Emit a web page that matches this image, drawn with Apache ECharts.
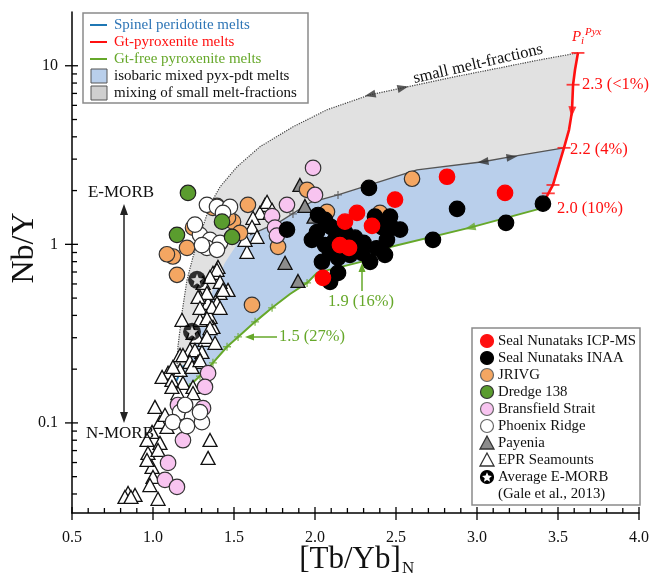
<!DOCTYPE html>
<html><head><meta charset="utf-8">
<script src="https://cdn.jsdelivr.net/npm/echarts/dist/echarts.min.js"></script>
<style>html,body{margin:0;padding:0;background:#fff}#c{width:652px;height:580px}</style>
</head><body><div id="c"></div><script>
// ---------- axes ----------
const X_MIN = 0.5, X_MAX = 4.0;
const Y_MIN = 0.0313, Y_MAX = 20;
const xTickValues = [0.5, 1.0, 1.5, 2.0, 2.5, 3.0, 3.5, 4.0];
const xTickLabels = ['0.5', '1.0', '1.5', '2.0', '2.5', '3.0', '3.5', '4.0'];
const xMinorTicks = [0.6,0.7,0.8,0.9,1.1,1.2,1.3,1.4,1.6,1.7,1.8,1.9,2.1,2.2,2.3,2.4,2.6,2.7,2.8,2.9,3.1,3.2,3.3,3.4,3.6,3.7,3.8,3.9];
const yTickValues = [0.1, 1, 10];
const yTickLabels = ['0.1', '1', '10'];
const yMinorTicks = [0.04,0.05,0.06,0.07,0.08,0.09,0.2,0.3,0.4,0.5,0.6,0.7,0.8,0.9,2,3,4,5,6,7,8,9];

// ---------- model curves [Tb/Yb]N, Nb/Y ----------
const gtPyxMelts = [[3.623,11.8],[3.605,9.5],[3.593,7.83],[3.586,5.52],[3.568,4.38],[3.537,3.47],[3.50,2.68],[3.469,2.15],[3.426,1.82],[3.405,1.62]];
const gtFreePyxMelts = [[3.407,1.60],[2.957,1.24],[2.444,0.956],[2.29,0.80],[2.012,0.692],[1.951,0.608],[1.846,0.527],[1.735,0.441],[1.630,0.368],[1.525,0.303],[1.457,0.267],[1.370,0.217],[1.290,0.183],[1.216,0.159]];
const spinelMelts = [[1.13,0.16],[1.16,0.185],[1.19,0.21]];
const smallMeltFrac = [[3.623,11.8],[3.389,10.8],[3.142,9.74],[2.833,8.57],[2.543,7.53],[2.340,6.88],[2.074,5.67],[1.864,4.55],[1.660,3.52],[1.519,2.72],[1.414,2.10],[1.352,1.665],[1.302,1.205],[1.247,0.851],[1.210,0.633],[1.179,0.413],[1.154,0.267],[1.148,0.206]];
const mixUpper = [[3.537,3.47],[3.204,3.09],[3.037,2.90],[2.630,2.61],[2.142,1.89],[1.969,1.71],[1.784,1.34],[1.599,1.13]];
const mixLeftEdge = [[1.537,1.06],[1.444,0.788],[1.370,0.556],[1.309,0.378],[1.241,0.256],[1.185,0.186]];
const greenTickMarks = [[1.228,0.159],[1.290,0.183],[1.370,0.217],[1.457,0.267],[1.525,0.303],[1.630,0.368],[1.735,0.441],[1.951,0.608]];
const redTickMarks = [[3.623,11.8],[3.593,7.83],[3.537,3.47],[3.469,2.15],[3.44,1.93]];
const mixTickMarks = [[2.142,1.89],[1.864,1.48]];
const arrowPoints = [[2.340,6.88],[2.543,7.53],[3.037,2.90],[3.216,3.08],[2.957,1.24],[3.586,5.52]];
const arrowAngles = [103, -77, 98, -82, 104, 175];
const arrowColors = ['#333','#333','#333','#333','#66a82a','#ff1010'];

// ---------- samples ----------
const sealICPMS = [[2.815,2.39],[3.173,1.94],[2.494,1.78],[2.259,1.50],[2.185,1.34],[2.352,1.27],[2.154,0.99],[2.21,0.956],[2.049,0.649]];
const sealINAA = [[1.827,1.21],[2.019,1.46],[2.062,1.37],[2.012,1.17],[2.062,0.99],[2.093,0.908],[2.142,0.84],[2.043,0.798],[2.093,0.617],[2.142,0.692],[2.185,1.17],[2.247,1.09],[2.29,0.896],[2.34,0.798],[2.37,1.43],[2.414,1.25],[2.432,0.873],[2.463,1.43],[2.475,1.24],[2.525,1.21],[2.444,1.06],[2.333,2.07],[2.728,1.06],[2.877,1.58],[3.179,1.32],[3.407,1.69],[2.216,0.873],[1.981,1.06],[2.10,1.25],[2.30,1.02],[2.38,0.95],[2.12,1.05]];
const jrivg = [[2.599,2.33],[2.401,1.50],[2.074,1.52],[1.951,2.02],[1.586,1.665],[1.395,1.64],[1.457,1.50],[1.494,1.34],[1.537,1.16],[1.772,0.968],[1.247,1.24],[1.210,0.956],[1.123,0.855],[1.086,0.88],[1.148,0.675],[1.611,0.458],[1.370,1.60],[1.463,1.41]];
const dredge138 = [[1.216,1.94],[1.426,1.34],[1.488,1.10],[1.148,1.13]];
const bransfield = [[1.988,2.68],[2.0,1.89],[1.827,1.665],[1.735,1.44],[1.753,1.24],[1.765,1.12],[1.340,0.19],[1.321,0.159],[1.309,0.121],[1.154,0.126],[1.21,0.115],[1.185,0.080],[1.093,0.0597],[1.074,0.048],[1.148,0.0438]];
const phoenix = [[1.333,1.665],[1.395,1.62],[1.475,1.62],[1.432,1.50],[1.290,1.13],[1.352,1.06],[1.414,1.02],[1.333,0.956],[1.395,0.932],[1.302,0.99],[1.259,1.29],[1.167,0.115],[1.241,0.108],[1.302,0.101],[1.123,0.101],[1.21,0.096],[1.290,0.115],[1.198,0.126]];
const payenia = [[1.907,2.15],[1.938,1.64],[1.994,1.43],[1.815,0.788],[1.895,0.624]];
const eprSeamounts = [[1.691,1.665],[1.660,1.501],[1.617,1.408],[1.722,1.501],[1.611,1.253],[1.704,1.73],[1.735,1.561],[1.642,1.102],[1.580,0.908],[1.568,1.060],
[1.401,0.748],[1.370,0.692],[1.309,0.608],[1.463,0.556],[1.414,0.535],[1.290,0.508],[1.340,0.470],[1.395,0.470],[1.179,0.378],[1.290,0.378],
[1.352,0.393],[1.370,0.345],[1.247,0.319],[1.321,0.292],[1.167,0.240],[1.228,0.256],[1.302,0.250],[1.395,0.720],[1.352,0.657],[1.414,0.616],
[1.432,0.556],[1.333,0.535],[1.278,0.508],[1.290,0.441],[1.364,0.446],[1.414,0.441],[1.333,0.386],[1.352,0.340],[1.272,0.303],[1.333,0.303],
[1.383,0.281],[1.259,0.256],[1.185,0.240],[1.228,0.220],[1.278,0.220],[1.167,0.198],[1.093,0.191],[1.056,0.181],[1.117,0.174],[1.185,0.1675],
[1.247,0.159],[1.154,0.147],[1.123,0.206],[1.241,0.206],[1.290,0.225],[1.117,0.159],[1.247,0.147],[1.012,0.123],[1.043,0.1013],[1.086,0.0950],
[0.994,0.0891],[0.963,0.0803],[1.043,0.0773],[0.969,0.0679],[1.031,0.0706],[0.994,0.0567],[0.963,0.0620],[1.0,0.0498],[1.352,0.0803],[1.340,0.0637],
[0.846,0.0405],[0.889,0.0395],[0.827,0.0385],[0.864,0.0385],[0.981,0.0449],[1.031,0.0376],[1.074,0.111]];
const avgEMORB = [[1.272,0.633],[1.241,0.324]];

// ---------- text ----------
const topLegendNames = ['Spinel peridotite melts','Gt-pyroxenite melts','Gt-free pyroxenite melts','isobaric mixed pyx-pdt melts','mixing of small melt-fractions'];
const sampleNames = ['Seal Nunataks ICP-MS','Seal Nunataks INAA','JRIVG','Dredge 138','Bransfield Strait','Phoenix Ridge','Payenia','EPR Seamounts','Average E-MORB'];

const FONT = '"Liberation Serif","Times New Roman",serif';
const C = {red:'#ff1010', blueLine:'#1f77b4', green:'#66a82a', gray:'#e1e1e1', blueFill:'#b9cfeb',
  orange:'#f4a662', dgreen:'#5a9c2e', pink:'#f8c4f0', payenia:'#8c8c8c'};

const chart = echarts.init(document.getElementById('c'), null, {renderer:'canvas'});

function polySeries(points, fill) {
  return {type:'custom', coordinateSystem:'cartesian2d', silent:true, z:1, data: points,
    renderItem: (params, api) => {
      if (params.dataIndex !== 0) return null;
      return {type:'polygon', shape:{points: points.map(p => api.coord(p))}, style:{fill}};
    }};
}
const grayPoly = smallMeltFrac.concat(gtFreePyxMelts.slice().reverse()).concat(gtPyxMelts.slice().reverse());
const bluePoly = mixUpper.concat(mixLeftEdge).concat(gtFreePyxMelts.slice().reverse()).concat(gtPyxMelts.slice(5).reverse());

function lineSeries(data, color, width, type) {
  return {type:'line', data, showSymbol:false, silent:true, z:2, animation:false,
    lineStyle:{color, width, type: type || 'solid'}};
}
const PLUS = 'path://M0,4.2 L10,4.2 L10,5.8 L0,5.8 Z M4.2,0 L5.8,0 L5.8,10 L4.2,10 Z';
function circleSeries(name, data, fill, stroke, z) {
  return {type:'scatter', name, data, symbol:'circle', symbolSize:15.5, silent:true, z,
    itemStyle:{color:fill, borderColor:stroke, borderWidth:1.2, opacity:1}};
}
function triSeries(name, data, fill, z) {
  return {type:'scatter', name, data, symbol:'triangle', symbolSize:[14,13], silent:true, z,
    itemStyle:{color:fill, borderColor:'#111', borderWidth:1.3, opacity:1}};
}
const STAR = 'path://M50,0 L62.9,32.3 L97.55,34.55 L70.9,56.8 L79.39,90.45 L50,72 L20.61,90.45 L29.1,56.8 L2.45,34.55 L37.1,32.3 Z';

const xTickData = xTickValues.map(v => [v, Y_MIN, 1]).concat(xMinorTicks.map(v => [v, Y_MIN, 0]));
const yTickData = yTickValues.map(v => [X_MIN, v, 1]).concat(yMinorTicks.map(v => [X_MIN, v, 0]));

// graphic helpers
function T(x, y, text, size, fill, o) {
  o = o || {};
  const font = (o.italic ? 'italic ' : '') + size + 'px ' + FONT;
  const el = {type:'text', x, y, z:100, silent:true,
    style:{text, font, fill, textAlign:o.align||'left', align:o.align||'left', textVerticalAlign:'middle', verticalAlign:'middle'}};
  if (o.rotation !== undefined) el.rotation = o.rotation;
  return el;
}
function L(x1,y1,x2,y2,stroke,w){return {type:'line', z:100, silent:true, shape:{x1,y1,x2,y2}, style:{stroke, lineWidth:w}};}
function P(points, fill){return {type:'polygon', z:100, silent:true, shape:{points}, style:{fill}};}
function starPts(cx, cy, R, r){const a=[];for(let i=0;i<10;i++){const ang=-Math.PI/2+i*Math.PI/5;const rr=i%2?r:R;a.push([cx+rr*Math.cos(ang), cy+rr*Math.sin(ang)]);}return a;}

const graphics = [];
// top-left legend
graphics.push({type:'rect', z:99, silent:true, shape:{x:83, y:13, width:225, height:90}, style:{fill:'#fff', stroke:'#8a8a8a', lineWidth:1.5}});
const tlColors = [C.blueLine, C.red, C.green];
const tlText = ['#2e75b6', C.red, C.green, '#111', '#111'];
topLegendNames.forEach((n, i) => {
  const y = 25 + i * 17;
  if (i < 3) graphics.push(L(90, y, 107, y, tlColors[i], 2));
  else graphics.push({type:'rect', z:100, silent:true, shape:{x:91, y:y-7, width:16, height:14}, style:{fill: i===3 ? C.blueFill : '#cfcfcf', stroke:'#555', lineWidth:1}});
  graphics.push(T(114, y, n, 15, tlText[i]));
});
// bottom-right legend
graphics.push({type:'rect', z:99, silent:true, shape:{x:472, y:328, width:168, height:177}, style:{fill:'#fff', stroke:'#8a8a8a', lineWidth:1.5}});
const brFill = [C.red, '#000', C.orange, C.dgreen, C.pink, '#fff', C.payenia, '#fff', '#000'];
const brStroke = [C.red, '#000', '#666', '#333', '#666', '#666', '#333', '#333', '#000'];
sampleNames.forEach((n, i) => {
  const y = 341 + i * 17, cx = 487;
  if (i === 6 || i === 7) graphics.push({type:'polygon', z:100, silent:true, shape:{points:[[cx,y-7],[cx-7,y+6],[cx+7,y+6]]}, style:{fill:brFill[i], stroke:brStroke[i], lineWidth:1.3}});
  else graphics.push({type:'circle', z:100, silent:true, shape:{cx, cy:y, r:6.5}, style:{fill:brFill[i], stroke:brStroke[i], lineWidth:1.2}});
  if (i === 8) graphics.push({type:'polygon', z:101, silent:true, shape:{points:starPts(cx, y+0.5, 5.2, 2.4)}, style:{fill:'#fff'}});
  graphics.push(T(498, y, n, 14.8, '#111'));
});
graphics.push(T(498, 341 + 9 * 17, '(Gale et al., 2013)', 14.8, '#111'));
// annotations
graphics.push(T(478, 64, 'small melt-fractions', 16.5, '#111', {align:'center', rotation: 13 * Math.PI / 180}));
graphics.push(T(572, 37, 'P', 15, C.red, {italic:true}));
graphics.push(T(581, 41, 'i', 11, C.red, {italic:true}));
graphics.push(T(585, 32, 'Pyx', 11, C.red, {italic:true}));
graphics.push(T(582, 85, '2.3 (<1%)', 16.5, C.red));
graphics.push(T(570, 150, '2.2 (4%)', 16.5, C.red));
graphics.push(T(557, 209, '2.0 (10%)', 16.5, C.red));
graphics.push(T(328, 302, '1.9 (16%)', 16.5, C.green));
graphics.push(T(279, 337, '1.5 (27%)', 16.5, C.green));
graphics.push(L(362, 291, 362, 270, C.green, 1.5));
graphics.push(P([[362,263],[358.5,272],[365.5,272]], C.green));
graphics.push(L(277, 337, 252, 337, C.green, 1.5));
graphics.push(P([[245,337],[254,333.5],[254,340.5]], C.green));
graphics.push(T(121, 193, 'E-MORB', 17, '#111', {align:'center'}));
graphics.push(T(120, 434, 'N-MORB', 17, '#111', {align:'center'}));
graphics.push(L(124, 212, 124, 416, '#222', 1.5));
graphics.push(P([[124,204],[120,215],[128,215]], '#222'));
graphics.push(P([[124,423],[120,412],[128,412]], '#222'));
// axis titles
graphics.push(T(25, 248, 'Nb/Y', 32, '#111', {align:'center', rotation: Math.PI / 2}));
graphics.push(T(350, 560, '[Tb/Yb]', 31, '#111', {align:'center'}));
graphics.push(T(402, 569, 'N', 17, '#111'));

const option = {
  animation:false,
  grid:{left:72, right:12, top:12, bottom:67, containLabel:false},
  xAxis:{type:'value', min:X_MIN, max:X_MAX, interval:0.5,
    axisLine:{show:true, onZero:false, lineStyle:{color:'#000', width:1.5}},
    axisTick:{show:false}, splitLine:{show:false},
    axisLabel:{margin:17, color:'#111', fontFamily:FONT, fontSize:16,
      formatter:(v) => { const i = xTickValues.findIndex(t => Math.abs(t - v) < 1e-6); return i >= 0 ? xTickLabels[i] : ''; }}},
  yAxis:{type:'log', logBase:10, min:Y_MIN, max:Y_MAX,
    axisLine:{show:true, onZero:false, lineStyle:{color:'#000', width:1.5}},
    axisTick:{show:false}, splitLine:{show:false}, minorTick:{show:false},
    axisLabel:{margin:14, color:'#111', fontFamily:FONT, fontSize:16, showMinLabel:false, showMaxLabel:false,
      formatter:(v) => { const i = yTickValues.findIndex(t => Math.abs(Math.log10(t) - Math.log10(v)) < 1e-6); return i >= 0 ? yTickLabels[i] : ''; }}},
  series:[
    polySeries(grayPoly, C.gray),
    polySeries(bluePoly, C.blueFill),
    lineSeries(smallMeltFrac, '#444', 1.2, 'dotted'),
    lineSeries(mixUpper, '#555', 1.3),
    lineSeries(spinelMelts, C.blueLine, 2),
    lineSeries(gtFreePyxMelts, C.green, 2),
    lineSeries(gtPyxMelts, C.red, 2.6),
    {type:'scatter', data:greenTickMarks, symbol:PLUS, symbolSize:8, silent:true, z:3, itemStyle:{color:C.green}},
    {type:'scatter', data:mixTickMarks, symbol:PLUS, symbolSize:8, silent:true, z:3, itemStyle:{color:'#555'}},
    {type:'scatter', data:redTickMarks, symbol:'rect', symbolSize:[13,1.8], silent:true, z:3, itemStyle:{color:C.red}},
    {type:'scatter', silent:true, z:3, symbol:'triangle', symbolSize:[8,11],
      data: arrowPoints.map((p, i) => ({value:p, symbolRotate:arrowAngles[i], itemStyle:{color:arrowColors[i]}}))},
    triSeries('EPR Seamounts', eprSeamounts, '#fff', 4),
    triSeries('Payenia', payenia, C.payenia, 4),
    circleSeries('JRIVG', jrivg, C.orange, '#333', 5),
    circleSeries('Bransfield Strait', bransfield, C.pink, '#333', 5),
    circleSeries('Phoenix Ridge', phoenix, '#fff', '#333', 5),
    circleSeries('Dredge 138', dredge138, C.dgreen, '#222', 6),
    circleSeries('Seal Nunataks INAA', sealINAA, '#000', '#000', 6),
    circleSeries('Seal Nunataks ICP-MS', sealICPMS, '#ff0000', '#ff0000', 7),
    {type:'scatter', name:'Average E-MORB', data:avgEMORB, symbol:'circle', symbolSize:18, silent:true, z:8, itemStyle:{color:'#000'}},
    {type:'scatter', data:avgEMORB, symbol:STAR, symbolSize:12, silent:true, z:9, itemStyle:{color:'#fff'}},
    {type:'custom', silent:true, z:10, data:xTickData, renderItem:(params, api) => {
      const c = api.coord([api.value(0), Y_MIN]); const major = api.value(2) === 1;
      return {type:'line', shape:{x1:c[0], y1:c[1] - (major ? 6 : 5), x2:c[0], y2:c[1] + (major ? 7 : 0)}, style:{stroke:'#000', lineWidth:1.3}};
    }},
    {type:'custom', silent:true, z:10, data:yTickData, renderItem:(params, api) => {
      const c = api.coord([X_MIN, api.value(1)]); const major = api.value(2) === 1;
      return {type:'line', shape:{x1:c[0] - (major ? 7 : 0), y1:c[1], x2:c[0] + (major ? 6 : 5), y2:c[1]}, style:{stroke:'#000', lineWidth:1.3}};
    }}
  ],
  graphic: graphics
};
chart.setOption(option);
</script></body></html>
